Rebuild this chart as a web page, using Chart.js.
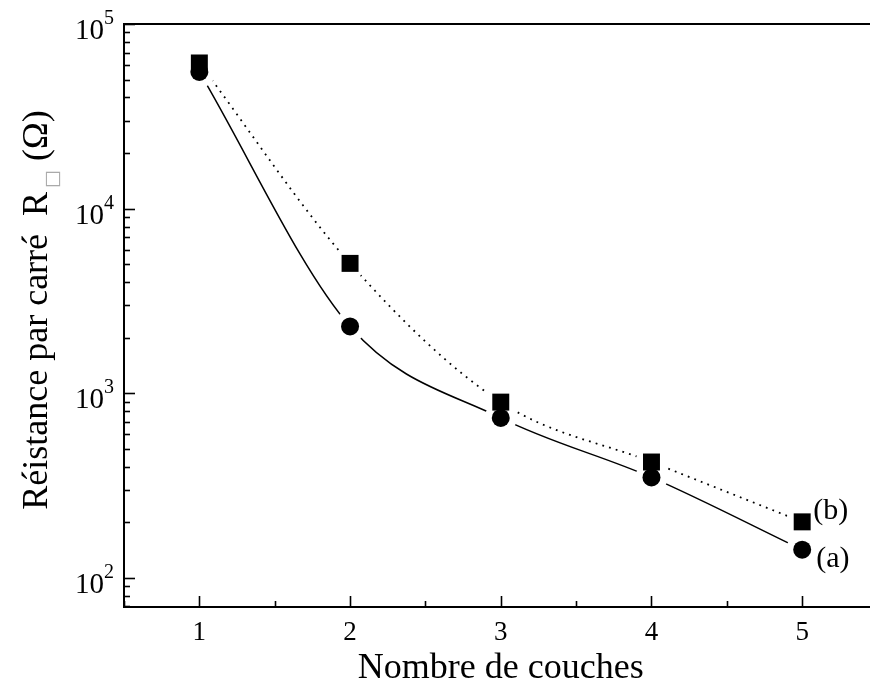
<!DOCTYPE html>
<html><head><meta charset="utf-8">
<script src="https://cdn.jsdelivr.net/npm/chart.js@4/dist/chart.umd.min.js"></script>
<style>html,body{margin:0;padding:0;background:#fff;overflow:hidden;} #wrap{width:870px;height:698px;position:relative;overflow:hidden;} canvas{display:block;}</style>
</head><body><div id="wrap"><canvas id="c"></canvas></div>
<script>
// ---- data ----
const layers = [1, 2, 3, 4, 5];
const seriesA = [55000, 2300, 735, 350, 142];   // circles, solid line
const seriesB = [61500, 5050, 895, 424, 201];   // squares, dotted line
const labelA = '(a)';
const labelB = '(b)';
const xTickValues = [1, 2, 3, 4, 5];
const yDecadeValues = [100, 1000, 10000, 100000];
const yDecadeBase = ['10', '10', '10', '10'];
const yDecadeExp = ['2', '3', '4', '5'];
const xTitle = 'Nombre de couches';
const xTitleCenterValue = 3;
const yTitleMain = 'Réistance par carré  R';
const yTitleSub = '\u25A1';
const yTitleEnd = ' (\u03A9)';

const SERIF = '"Liberation Serif", "Times New Roman", serif';
const pts = arr => layers.map((x, i) => ({x: x, y: arr[i]}));

const deco = {
  id: 'deco',
  afterDraw(chart) {
    const {ctx, chartArea: ca, scales: {x, y}} = chart;
    ctx.save();
    ctx.strokeStyle = '#000';
    ctx.fillStyle = '#000';
    ctx.lineWidth = 2;
    // top frame line
    ctx.beginPath(); ctx.moveTo(ca.left - 1, ca.top); ctx.lineTo(chart.width, ca.top); ctx.stroke();
    // y ticks (inward)
    ctx.lineWidth = 1.6;
    for (let e = 1; e <= 5; e++) {
      for (let m = 1; m <= 9; m++) {
        const v = m * Math.pow(10, e);
        if (v < y.min || v > y.max) continue;
        const py = Math.round(y.getPixelForValue(v)) + 0.5;
        const len = (m === 1) ? 11 : 6;
        ctx.beginPath(); ctx.moveTo(ca.left, py); ctx.lineTo(ca.left + len, py); ctx.stroke();
      }
    }
    // x ticks (inward): majors and halves
    for (let v = Math.ceil(x.min * 2) / 2; v <= x.max + 1e-9; v += 0.5) {
      const px = Math.round(x.getPixelForValue(v)) + 0.5;
      const len = Number.isInteger(v) ? 11 : 6;
      ctx.beginPath(); ctx.moveTo(px, ca.bottom); ctx.lineTo(px, ca.bottom - len); ctx.stroke();
    }
    // y tick labels 10^n
    ctx.textBaseline = 'alphabetic';
    yDecadeValues.forEach((v, i) => {
      const py = y.getPixelForValue(v);
      ctx.font = '29px ' + SERIF;
      ctx.textAlign = 'right';
      ctx.fillText(yDecadeBase[i], 104, py + 15);
      ctx.font = '20px ' + SERIF;
      ctx.textAlign = 'left';
      ctx.fillText(yDecadeExp[i], 104, py + 0);
    });
    // x title
    ctx.font = '36px ' + SERIF;
    ctx.textAlign = 'center';
    ctx.fillText(xTitle, x.getPixelForValue(xTitleCenterValue), 678);
    // series end labels
    ctx.font = '30px ' + SERIF;
    ctx.textAlign = 'left';
    ctx.textBaseline = 'middle';
    const lx = x.getPixelForValue(layers[layers.length - 1]);
    ctx.fillText(labelB, lx + 11, y.getPixelForValue(seriesB[seriesB.length - 1]) - 11);
    ctx.fillText(labelA, lx + 14, y.getPixelForValue(seriesA[seriesA.length - 1]) + 9);
    // y title (rotated, with subscript box)
    ctx.translate(47, 310);
    ctx.rotate(-Math.PI / 2);
    ctx.textAlign = 'left';
    const fMain = '36px ' + SERIF, fSub = '19px "DejaVu Sans"';
    ctx.textBaseline = 'alphabetic';
    ctx.font = fMain; const w1 = ctx.measureText(yTitleMain).width; const w3 = ctx.measureText(yTitleEnd).width;
    ctx.font = fSub; const w2 = ctx.measureText(yTitleSub).width;
    const gap = 4;
    const total = w1 + gap + w2 + w3;
    let xx = -total / 2;
    ctx.font = fMain; ctx.fillStyle = '#000'; ctx.fillText(yTitleMain, xx, 0); xx += w1 + gap;
    ctx.font = fSub; ctx.fillStyle = '#aaaaaa'; ctx.textBaseline = 'middle'; ctx.fillText(yTitleSub, xx, 6); xx += w2;
    ctx.font = fMain; ctx.fillStyle = '#000'; ctx.textBaseline = 'alphabetic'; ctx.fillText(yTitleEnd, xx, 0);
    ctx.restore();
  }
};

const lineCommon = {showLine: true, pointRadius: 0, fill: false, borderColor: '#000', cubicInterpolationMode: 'monotone', order: 3};

new Chart(document.getElementById('c'), {
  type: 'scatter',
  data: {
    datasets: [
      Object.assign({label: 'lineA', data: pts(seriesA), borderWidth: 1.5}, lineCommon),
      Object.assign({label: 'lineB', data: pts(seriesB), borderWidth: 1.8, borderDash: [1.8, 5.2]}, lineCommon),
      {label: 'haloA', data: pts(seriesA), showLine: false, pointRadius: 16, pointStyle: 'circle', backgroundColor: '#fff', borderWidth: 0, order: 2},
      {label: 'haloB', data: pts(seriesB), showLine: false, pointRadius: 16, pointStyle: 'circle', backgroundColor: '#fff', borderWidth: 0, order: 2},
      {label: labelA, data: pts(seriesA), showLine: false, pointRadius: 9, pointStyle: 'circle', backgroundColor: '#000', borderWidth: 0, order: 1},
      {label: labelB, data: pts(seriesB), showLine: false, pointRadius: 12, pointStyle: 'rect', backgroundColor: '#000', borderWidth: 0, order: 1}
    ]
  },
  options: {
    responsive: true,
    maintainAspectRatio: false,
    animation: false,
    devicePixelRatio: 1,
    layout: {autoPadding: false, padding: {top: 24, left: 0, right: 0, bottom: 0}},
    plugins: {legend: {display: false}, tooltip: {enabled: false}},
    scales: {
      x: {
        type: 'linear', min: 0.5, max: 5.45,
        afterBuildTicks: s => { s.ticks = xTickValues.map(v => ({value: v})); },
        afterFit: s => { s.height = 91; s.paddingLeft = 0; s.paddingRight = 0; },
        grid: {display: true, drawOnChartArea: false, drawTicks: false},
        border: {display: true, color: '#000', width: 2},
        ticks: {color: '#000', font: {family: SERIF, size: 27}, padding: 10, maxRotation: 0},
        title: {display: false}
      },
      y: {
        type: 'logarithmic', min: 69.5, max: 100000,
        afterFit: s => { s.width = 124; },
        grid: {display: true, drawOnChartArea: false, drawTicks: false},
        border: {display: true, color: '#000', width: 2},
        ticks: {display: false}
      }
    }
  },
  plugins: [deco]
});
</script>
</body></html>
